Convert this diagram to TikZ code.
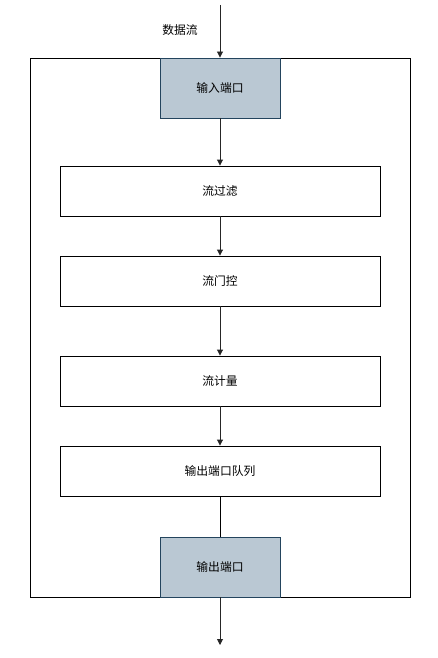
\documentclass[tikz,border=0pt]{standalone}
\usepackage{fontspec}
\newfontfamily\cjk{Noto Sans CJK SC}
\usetikzlibrary{arrows.meta}
\definecolor{portfill}{HTML}{BAC8D3}
\definecolor{portdraw}{HTML}{23445D}
\tikzset{
  every node/.style={font=\cjk\fontsize{11.8}{14}\selectfont},
  stagebox/.style={draw=black, line width=0.9pt, fill=white, minimum width=320pt, minimum height=50pt, inner sep=0pt},
  portbox/.style={draw=portdraw, line width=0.9pt, fill=portfill, minimum width=120pt, minimum height=60pt, inner sep=0pt},
  flow/.style={draw=black!85, line width=0.9pt, -{Triangle[width=6pt,length=6pt]}},
}
\begin{document}
\begin{tikzpicture}[x=1pt,y=-1pt]
\useasboundingbox (0,0) rectangle (438,658);
\node[draw=black, line width=0.9pt, minimum width=380pt, minimum height=539pt, inner sep=0pt] (outer) at (220,327.5) {};
\node[portbox] (in) at (220,88) {输入端口};
\node[stagebox] (filt) at (220,191) {流过滤};
\node[stagebox] (gate) at (220,281) {流门控};
\node[stagebox] (meter) at (220,381) {流计量};
\node[stagebox] (queue) at (220,471) {输出端口队列};
\node[portbox] (out) at (220,567) {输出端口};
\coordinate (src) at (220,5);
\coordinate (sink) at (220,645);
\node (lbl) at (180,30) {数据流};
\draw[flow] (src) -- (in.north);
\draw[flow] (in) -- (filt);
\draw[flow] (filt) -- (gate);
\draw[flow] (gate) -- (meter);
\draw[flow] (meter) -- (queue);
\draw[draw=black, line width=0.9pt] (queue) -- (out);
\draw[flow] (out) -- (sink);
\end{tikzpicture}
\end{document}
